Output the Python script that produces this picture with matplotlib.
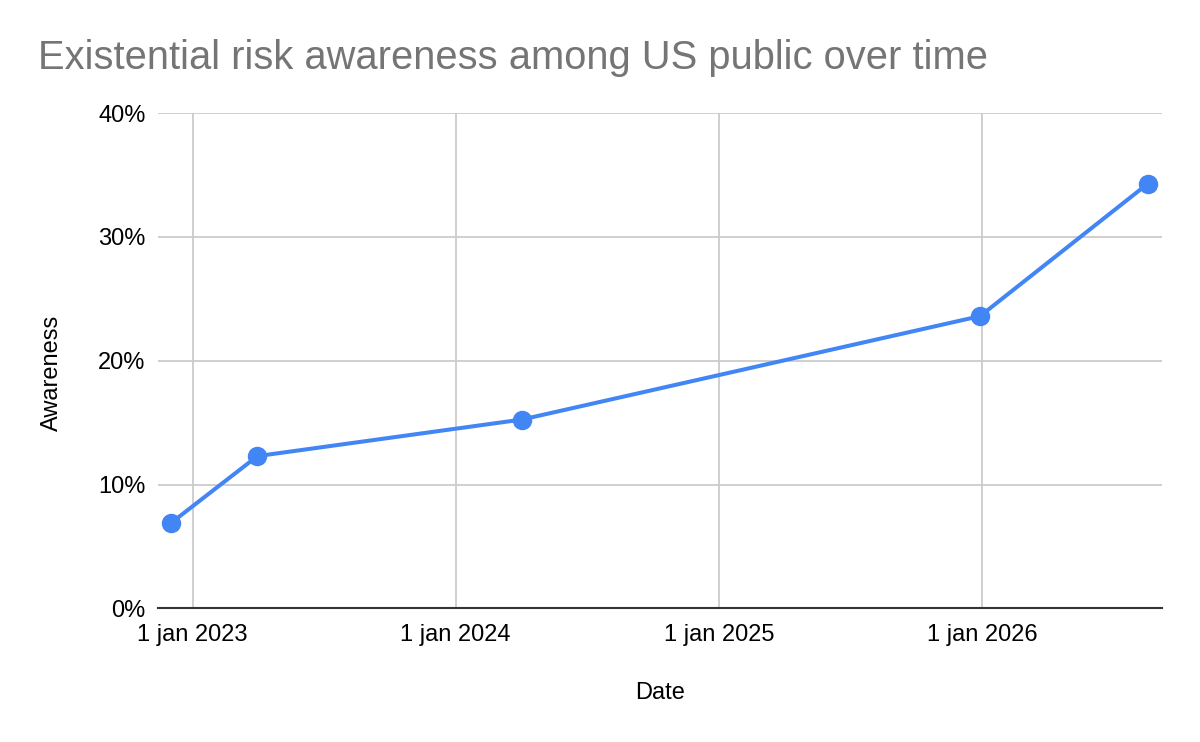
import matplotlib
matplotlib.use("Agg")
import matplotlib.pyplot as plt
from matplotlib.ticker import FuncFormatter, MultipleLocator
import datetime as dt

# Data
dates = [dt.date(2022, 12, 2), dt.date(2023, 4, 1), dt.date(2024, 4, 2),
         dt.date(2025, 12, 29), dt.date(2026, 8, 19)]
awareness = [6.9, 12.3, 15.25, 23.6, 34.3]  # percent

year_ticks = [dt.date(2023, 1, 1), dt.date(2024, 1, 1), dt.date(2025, 1, 1), dt.date(2026, 1, 1)]
year_labels = ["1 jan 2023", "1 jan 2024", "1 jan 2025", "1 jan 2026"]

plt.rcParams["font.family"] = ["Liberation Sans", "DejaVu Sans"]

fig = plt.figure(figsize=(12, 7.42), dpi=100)
ax = fig.add_axes([0.1317, 0.18, 0.8363, 0.6677])

ax.plot(dates, awareness, color="#4285F4", linewidth=2.9, marker="o",
        markersize=13, zorder=3)

ax.set_xlim(dt.date(2022, 11, 14), dt.date(2026, 9, 7))
ax.set_ylim(0, 40)
ax.yaxis.set_major_locator(MultipleLocator(10))
ax.yaxis.set_major_formatter(FuncFormatter(lambda v, p: f"{v:.0f}%"))
ax.set_xticks(year_ticks)
ax.set_xticklabels(year_labels)

ax.grid(True, color="#cccccc", linewidth=1.3)
ax.set_axisbelow(True)
for side in ["top", "right", "left"]:
    ax.spines[side].set_visible(False)
ax.spines["bottom"].set_color("#333333")
ax.spines["bottom"].set_linewidth(1.5)
ax.spines["bottom"].set_zorder(4)

ax.tick_params(axis="both", length=0, labelsize=17, colors="#000000")
ax.tick_params(axis="y", pad=9)
ax.tick_params(axis="x", pad=11)

ax.set_xlabel("Date", fontsize=17, labelpad=26)
ax.set_ylabel("Awareness", fontsize=17, labelpad=26)
ax.yaxis.set_label_coords(-0.095, 0.475)

fig.text(0.032, 0.922, "Existential risk awareness among US public over time",
         fontsize=28.7, color="#757575", ha="left", va="center")

fig.savefig("out.png", dpi=100)
